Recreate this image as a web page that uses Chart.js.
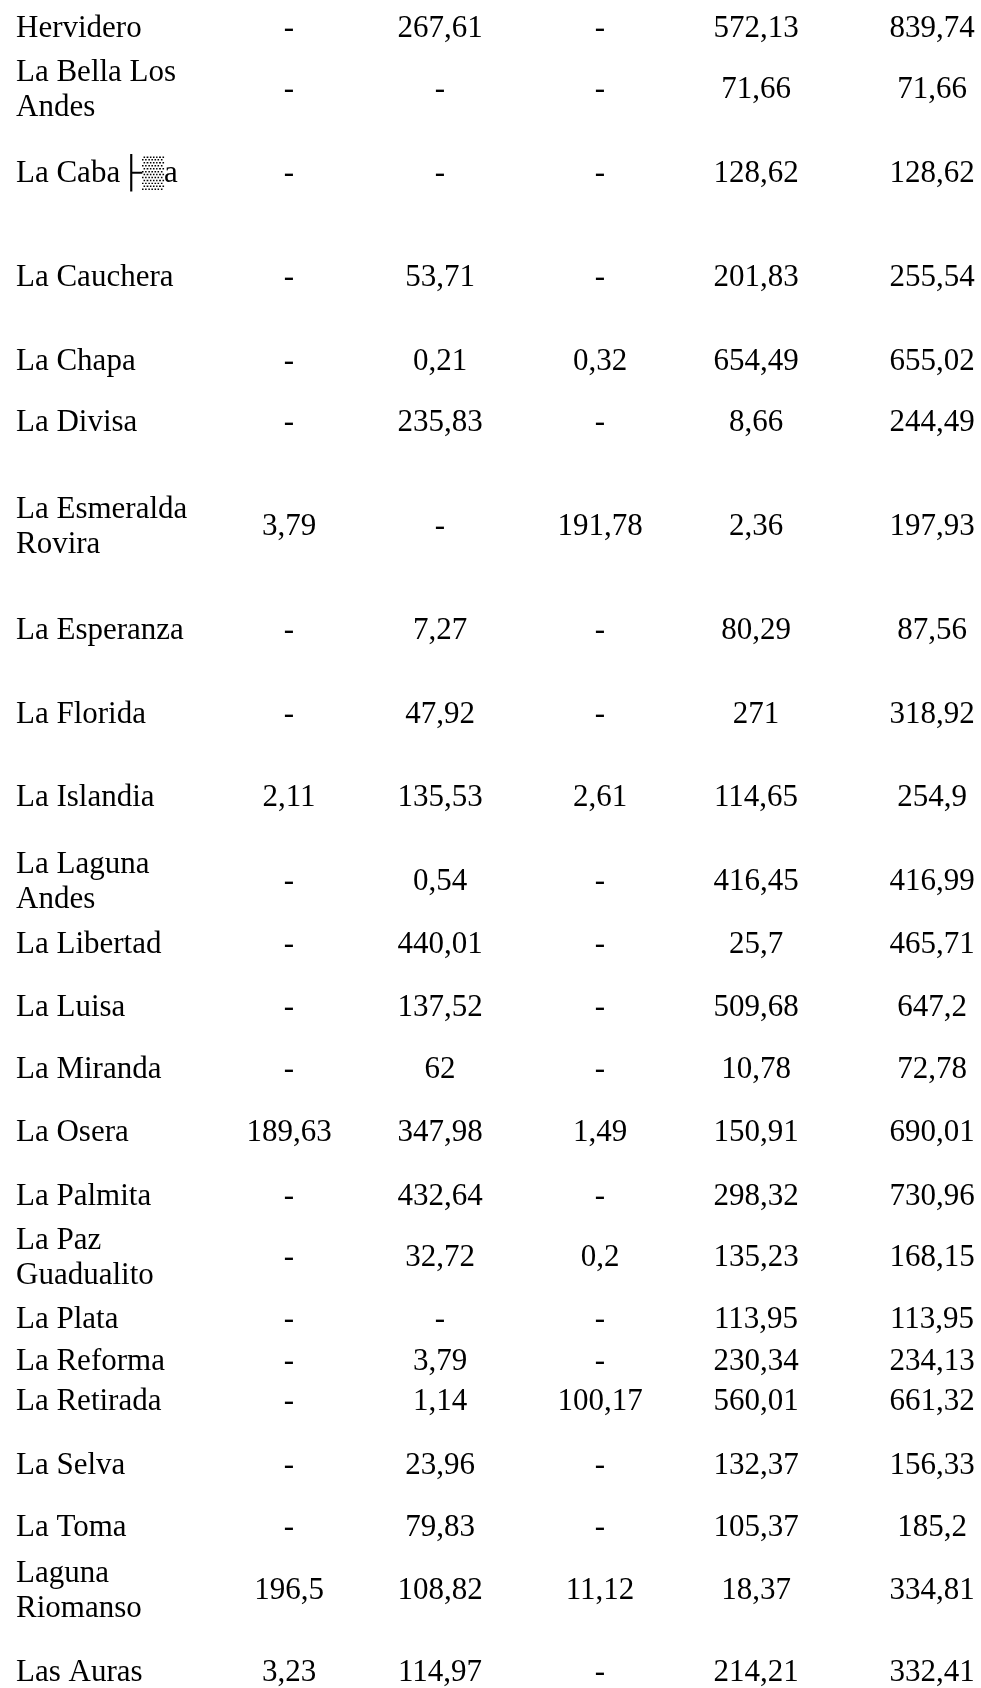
<!DOCTYPE html>
<html>
<head>
<meta charset="utf-8">
<script src="https://cdn.jsdelivr.net/npm/chart.js@4.4.1/dist/chart.umd.min.js"></script>
<style>
  html, body { margin: 0; background: #fff; }
  #wrap { position: relative; width: 981px; height: 1688px; }
</style>
</head>
<body>
<div id="wrap"><canvas id="table"></canvas></div>
<script>
// row names (multi-line where the cell wraps)
const ROW_NAMES = [
  ['Hervidero'], ['La Bella Los', 'Andes'], ['La Caba\u251c\u2592a'], ['La Cauchera'],
  ['La Chapa'], ['La Divisa'], ['La Esmeralda', 'Rovira'], ['La Esperanza'],
  ['La Florida'], ['La Islandia'], ['La Laguna', 'Andes'], ['La Libertad'],
  ['La Luisa'], ['La Miranda'], ['La Osera'], ['La Palmita'],
  ['La Paz', 'Guadualito'], ['La Plata'], ['La Reforma'], ['La Retirada'],
  ['La Selva'], ['La Toma'], ['Laguna', 'Riomanso'], ['Las Auras']
];

// null = "-"
const COL_1 = [null, null, null, null, null, null, 3.79, null, null, 2.11, null, null,
  null, null, 189.63, null, null, null, null, null, null, null, 196.5, 3.23];
const COL_2 = [267.61, null, null, 53.71, 0.21, 235.83, null, 7.27, 47.92, 135.53, 0.54, 440.01,
  137.52, 62, 347.98, 432.64, 32.72, null, 3.79, 1.14, 23.96, 79.83, 108.82, 114.97];
const COL_3 = [null, null, null, null, 0.32, null, 191.78, null, null, 2.61, null, null,
  null, null, 1.49, null, 0.2, null, null, 100.17, null, null, 11.12, null];
const COL_4 = [572.13, 71.66, 128.62, 201.83, 654.49, 8.66, 2.36, 80.29, 271, 114.65, 416.45, 25.7,
  509.68, 10.78, 150.91, 298.32, 135.23, 113.95, 230.34, 560.01, 132.37, 105.37, 18.37, 214.21];
const TOTAL = [839.74, 71.66, 128.62, 255.54, 655.02, 244.49, 197.93, 87.56, 318.92, 254.9, 416.99, 465.71,
  647.2, 72.78, 690.01, 730.96, 168.15, 113.95, 234.13, 661.32, 156.33, 185.2, 334.81, 332.41];

const COLUMNS = [COL_1, COL_2, COL_3, COL_4, TOTAL];

// layout (page pixels)
const PAGE_W = 981;
const PAGE_H = 1688;
const PAD_LEFT = 16;
const NAME_COL_W = 200;
const ROW_CENTERS = [29, 90, 174, 278, 362, 423, 527, 631, 715, 798, 882, 945,
  1008, 1070, 1133, 1197, 1258, 1320, 1362, 1402, 1466, 1528, 1591, 1673];
const COL_CENTERS = [289, 440, 600, 756, 932];

const FONT = "'Liberation Serif', 'Times New Roman', serif";
const FONT_SIZE = 31;

const fmt = v => v == null ? '-' : String(v).replace('.', ',');

const cells = [];
COLUMNS.forEach((col, j) => {
  col.forEach((v, i) => {
    cells.push({ x: COL_CENTERS[j], y: ROW_CENTERS[i], text: fmt(v) });
  });
});

const cellText = {
  id: 'cellText',
  afterDatasetsDraw(chart) {
    const ctx = chart.ctx;
    const pts = chart.getDatasetMeta(0).data;
    const raw = chart.data.datasets[0].data;
    ctx.save();
    ctx.font = FONT_SIZE + 'px ' + FONT;
    ctx.fillStyle = '#000';
    ctx.textAlign = 'center';
    ctx.textBaseline = 'middle';
    pts.forEach((pt, i) => ctx.fillText(raw[i].text, pt.x, pt.y));
    ctx.restore();
  }
};

new Chart(document.getElementById('table'), {
  type: 'scatter',
  data: {
    datasets: [{ data: cells, pointRadius: 0, pointHoverRadius: 0, clip: false }]
  },
  options: {
    responsive: true,
    maintainAspectRatio: false,
    animation: false,
    events: [],
    layout: { padding: { left: PAD_LEFT, right: 0, top: 0, bottom: 0 } },
    plugins: { legend: { display: false }, tooltip: { enabled: false } },
    scales: {
      x: {
        type: 'linear',
        display: false,
        min: PAD_LEFT + NAME_COL_W,
        max: PAGE_W
      },
      y: {
        type: 'linear',
        reverse: true,
        min: 0,
        max: PAGE_H,
        grid: { display: false },
        border: { display: false },
        afterFit: s => {
          s.width = NAME_COL_W;
          // labels sit inside the area, no edge padding needed
          s.paddingTop = 0;
          s.paddingBottom = 0;
        },
        afterBuildTicks: s => { s.ticks = ROW_CENTERS.map(v => ({ value: v })); },
        ticks: {
          autoSkip: false,
          crossAlign: 'far',
          padding: 0,
          color: '#000',
          font: { family: FONT, size: FONT_SIZE, lineHeight: 1.13 },
          callback: (v, i) => ROW_NAMES[i].length > 1 ? ROW_NAMES[i] : ROW_NAMES[i][0]
        }
      }
    }
  },
  plugins: [cellText]
});
</script>
</body>
</html>
